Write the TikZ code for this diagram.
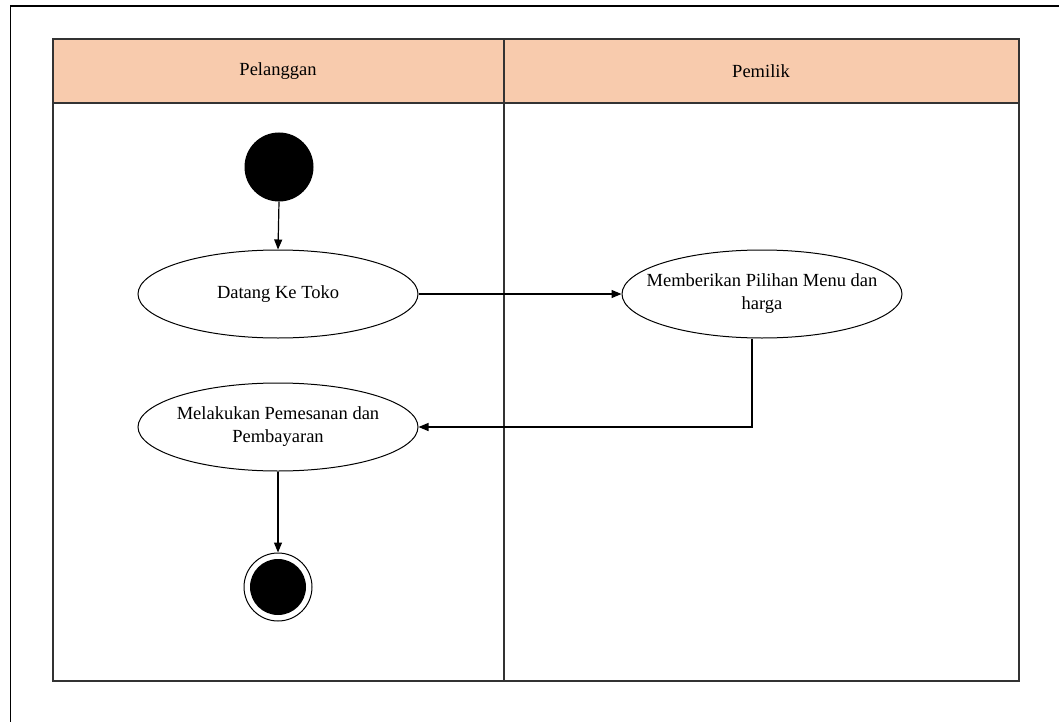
\documentclass[tikz,border=0pt]{standalone}
\usepackage{fontspec}
\setmainfont{Liberation Serif}
\usetikzlibrary{shapes.geometric,arrows.meta}
\definecolor{lanehead}{HTML}{F8CBAD}
\begin{document}
\begin{tikzpicture}[x=1pt,y=-1pt,
  activity/.style={draw,ellipse,line width=1pt,minimum width=280pt,minimum height=88pt,
    inner xsep=-60pt,inner ysep=0pt,align=center,font=\fontsize{18.5}{23}\selectfont},
  lanelabel/.style={font=\fontsize{18.5}{22}\selectfont},
  flow/.style={line width=1.2pt,-{Triangle[length=10pt,width=8pt]}},
  laneline/.style={line width=1.4pt,draw=black!80}]
\useasboundingbox (0,0) rectangle (1059,722);
% page frame (top and left edges)
\draw[line width=1.6pt] (10.5,722) -- (10.5,6) -- (1059,6);
% swimlanes
\fill[lanehead] (53,39) rectangle (1019,103);
\draw[laneline] (53,39) rectangle (1019,681);
\draw[laneline] (53,103) -- (1019,103);
\draw[laneline] (504,39) -- (504,681);
\node[lanelabel] (laneA) at (278,71) {Pelanggan};
\node[lanelabel] (laneB) at (761,71) {Pemilik};
% initial node
\node[circle,fill=black,minimum size=69pt,inner sep=0pt] (start) at (279,167) {};
% activities
\node[activity] (datang) at (278,294) {Datang Ke Toko};
\node[activity] (menu) at (762,294) {Memberikan Pilihan Menu dan\\harga};
\node[activity] (pesan) at (278,427) {Melakukan Pemesanan dan\\Pembayaran};
% final node
\node[circle,draw,line width=1pt,minimum size=68pt,inner sep=0pt] (final) at (278,587) {};
\fill (final.center) circle (28pt);
% flows
\draw[flow] (start.south) -- (datang.north);
\draw[flow] (datang.east) -- (menu.west);
\draw[flow] ([xshift=-10pt]menu.south) |- (pesan.east);
\draw[flow] (pesan.south) -- (final.north);
\end{tikzpicture}
\end{document}
